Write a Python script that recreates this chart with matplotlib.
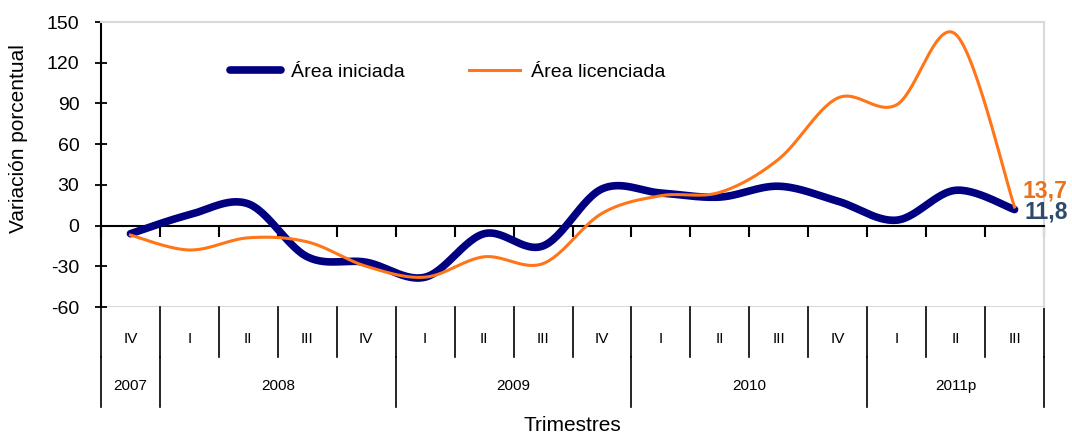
import numpy as np
import matplotlib
matplotlib.use('Agg')
import matplotlib.pyplot as plt

plt.rcParams['font.family'] = ['Liberation Sans', 'DejaVu Sans']
plt.rcParams['axes.unicode_minus'] = False

# quarters shown on the x axis
quarters = ['IV', 'I', 'II', 'III', 'IV', 'I', 'II', 'III', 'IV',
            'I', 'II', 'III', 'IV', 'I', 'II', 'III']
years = ['2007', '2008', '2009', '2010', '2011p']
year_counts = [1, 4, 4, 4, 3]

# variacion porcentual
area_iniciada = [-6, 8, 16, -23, -27, -38, -6, -15, 27, 24, 21, 29, 18, 4, 26, 11.8]
area_licenciada = [-7, -18, -9, -12, -30, -38, -23, -28, 9, 22, 24.5, 49, 94, 89, 141, 13.7]


def smooth(x, y, n=30):
    # excel style smoothed line (bezier through the points)
    p = np.column_stack([x, y]).astype(float)
    out = []
    t = np.linspace(0, 1, n)[:, None]
    for i in range(len(p) - 1):
        p0 = p[i - 1] if i > 0 else p[i]
        p1, p2 = p[i], p[i + 1]
        p3 = p[i + 2] if i + 2 < len(p) else p[i + 1]
        c1 = p1 + (p2 - p0) / 6
        c2 = p2 - (p3 - p1) / 6
        seg = (1 - t) ** 3 * p1 + 3 * (1 - t) ** 2 * t * c1 + 3 * (1 - t) * t ** 2 * c2 + t ** 3 * p2
        out.append(seg if i == 0 else seg[1:])
    out = np.vstack(out)
    return out[:, 0], out[:, 1]


fig = plt.figure(figsize=(10.72, 4.34), dpi=100)
ax = fig.add_axes([0.0942, 0.2926, 0.8797, 0.6567])

x = np.arange(len(quarters)) + 0.5
xs, ys = smooth(x, area_iniciada)
ax.plot(xs, ys, color='#000080', lw=5.5, solid_capstyle='round', label='Área iniciada', zorder=3)
xs, ys = smooth(x, area_licenciada)
ax.plot(xs, ys, color='#FF7518', lw=2.2, label='Área licenciada', zorder=4)

ax.set_xlim(0, len(quarters))
ax.set_ylim(-60, 150)
ax.set_yticks(np.arange(-60, 151, 30))
ax.tick_params(axis='y', labelsize=14, length=9, width=1.3, direction='inout', pad=11)

# zero line acts as the category axis
ax.spines['bottom'].set_position(('data', 0))
ax.spines['bottom'].set_color('black')
ax.spines['bottom'].set_linewidth(1.5)
ax.spines['left'].set_linewidth(1.5)
ax.spines['top'].set_color('#d9d9d9')
ax.spines['right'].set_color('#d9d9d9')
ax.spines['top'].set_linewidth(1.5)
ax.spines['right'].set_linewidth(1.5)
ax.axhline(-60, color='#d9d9d9', lw=1.5, zorder=0)
ax.set_xticks(np.arange(len(quarters) + 1))
ax.tick_params(axis='x', length=8, width=1.5, direction='out', labelbottom=False)

# category table below the plot
trans = ax.transAxes
for k in range(len(quarters) + 1):
    xf = k / len(quarters)
    ax.plot([xf, xf], [0, -0.175], color='black', lw=1.2, transform=trans, clip_on=False)
for i, q in enumerate(quarters):
    ax.text((i + 0.5) / len(quarters), -0.112, q, transform=trans, ha='center', va='center', fontsize=11)
start = 0
for yr, c in zip(years, year_counts):
    xf = start / len(quarters)
    ax.plot([xf, xf], [-0.175, -0.351], color='black', lw=1.2, transform=trans, clip_on=False)
    ax.text((start + c / 2) / len(quarters), -0.277, yr, transform=trans, ha='center', va='center', fontsize=11)
    start += c
ax.plot([1, 1], [-0.175, -0.351], color='black', lw=1.2, transform=trans, clip_on=False)

ax.text(0.5, -0.415, 'Trimestres', transform=trans, ha='center', va='center', fontsize=15)
ax.set_ylabel('Variación porcentual', fontsize=15)
ax.yaxis.set_label_coords(-0.077, 0.59)

# data labels at the last point
ax.text(x[-1] + 0.14, area_licenciada[-1] + 12, '13,7', color='#E8731F', fontsize=16.5,
        fontweight='bold', ha='left', va='center')
ax.text(x[-1] + 0.17, area_iniciada[-1] - 1.5, '11,8', color='#2F4A6E', fontsize=16.5,
        fontweight='bold', ha='left', va='center')

ax.legend(loc='center left', bbox_to_anchor=(0.137, 0.825), ncol=2, frameon=False,
          fontsize=14, handlelength=2.6, columnspacing=3.3, handletextpad=0.55,
          borderpad=0, borderaxespad=0)

fig.savefig('out.png', dpi=100)
